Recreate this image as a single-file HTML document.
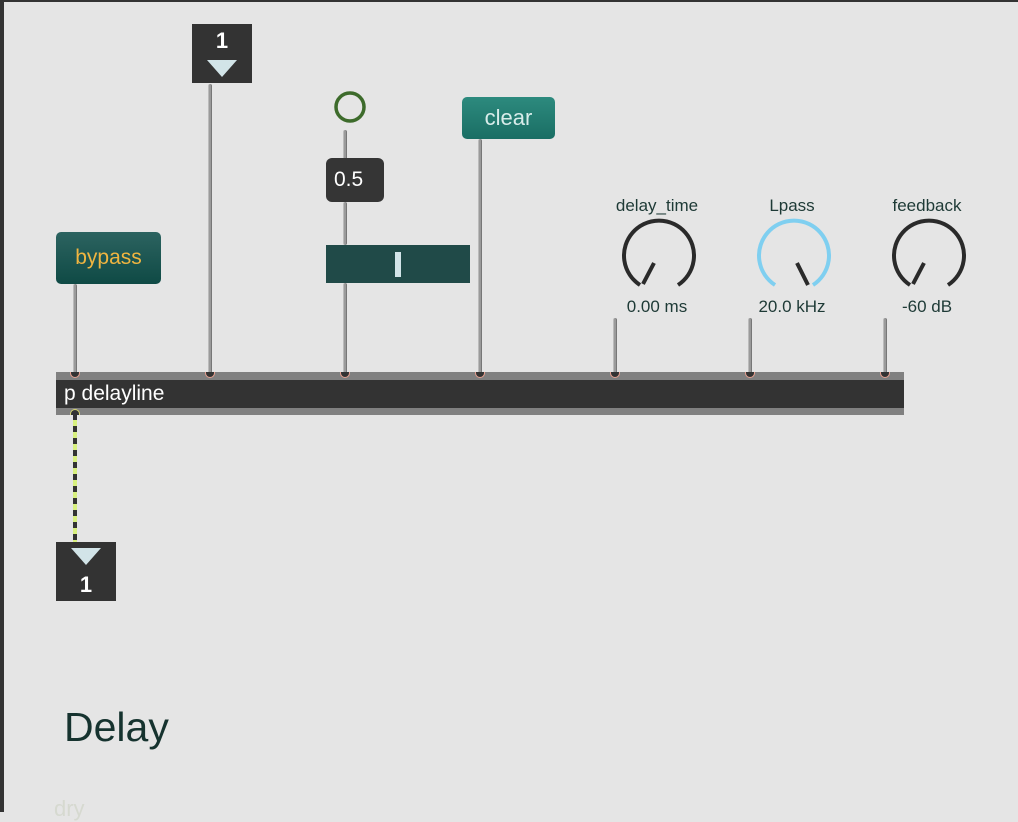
<!DOCTYPE html>
<html><head><style>
body{margin:0;width:1018px;height:812px;overflow:hidden;background:#e5e5e5;position:relative;font-family:"Liberation Sans",sans-serif}
.a{position:absolute}
.cord{position:absolute;width:4px;background:#9a9a9a;border-left:1px solid #bbb;border-right:1px solid #777;box-sizing:border-box;border-radius:2px}
.lbl{position:absolute;color:#1e3a36;font-size:17px;text-align:center;width:120px}
.inl{position:absolute;width:10px;height:6px;top:372px;border:1.5px solid #e8a090;border-top:none;border-radius:0 0 6px 6px;background:#333;box-sizing:border-box}
</style></head><body>
<div class="a" style="left:0;top:0;width:4px;height:812px;background:#333"></div>
<div class="a" style="left:0;top:0;width:1018px;height:2px;background:#333"></div>

<div class="cord" style="left:73px;top:284px;height:90px"></div>
<div class="cord" style="left:208px;top:84px;height:290px"></div>
<div class="cord" style="left:343px;top:130px;height:30px"></div>
<div class="cord" style="left:343px;top:202px;height:43px"></div>
<div class="cord" style="left:343px;top:283px;height:91px"></div>
<div class="cord" style="left:478px;top:139px;height:235px"></div>
<div class="cord" style="left:613px;top:318px;height:56px"></div>
<div class="cord" style="left:748px;top:318px;height:56px"></div>
<div class="cord" style="left:883px;top:318px;height:56px"></div>

<div class="a" style="left:192px;top:24px;width:60px;height:59px;background:#333"></div>
<div class="a" style="left:192px;top:28px;width:60px;text-align:center;color:#fff;font-weight:bold;font-size:22px">1</div>
<svg class="a" style="left:192px;top:24px" width="60" height="59"><polygon points="15,36 45,36 30,53" fill="#d2e4e8"/></svg>

<div class="a" style="left:56px;top:232px;width:105px;height:52px;border-radius:5px;background:linear-gradient(#2c6360,#0f4a45);color:#f0b540;font-size:21px;text-align:center;line-height:52px">bypass</div>

<svg class="a" style="left:333px;top:90px" width="34" height="34"><circle cx="17" cy="17" r="14" fill="none" stroke="#3d6b2b" stroke-width="3.5"/></svg>
<div class="a" style="left:326px;top:158px;width:58px;height:44px;border-radius:6px;background:#353535;color:#fff;font-size:21px;line-height:44px;padding-left:8px;box-sizing:border-box">0.5</div>
<div class="a" style="left:326px;top:245px;width:144px;height:38px;background:#204a48"></div>
<div class="a" style="left:395px;top:252px;width:6px;height:25px;background:#d2e4e8"></div>

<div class="a" style="left:462px;top:97px;width:93px;height:42px;border-radius:5px;background:linear-gradient(#2d8a7e,#1a6e64);color:#d8ecea;font-size:22px;text-align:center;line-height:42px">clear</div>

<div class="lbl" style="left:597px;top:196px">delay_time</div>
<div class="lbl" style="left:732px;top:196px">Lpass</div>
<div class="lbl" style="left:867px;top:196px">feedback</div>
<div class="lbl" style="left:597px;top:297px">0.00 ms</div>
<div class="lbl" style="left:732px;top:297px">20.0 kHz</div>
<div class="lbl" style="left:867px;top:297px">-60 dB</div>
<svg class="a" style="left:0;top:0" width="1018" height="812">
<g fill="none" stroke-width="4">
<path d="M640 285 A35 35 0 1 1 678 285" stroke="#2a2a2a"/>
<line x1="654" y1="263" x2="643" y2="284" stroke="#2a2a2a"/>
<path d="M775 285 A35 35 0 1 1 813 285" stroke="#7fcff0"/>
<line x1="797" y1="263" x2="808" y2="285" stroke="#2a2a2a"/>
<path d="M910 285 A35 35 0 1 1 948 285" stroke="#2a2a2a"/>
<line x1="924" y1="263" x2="913" y2="284" stroke="#2a2a2a"/>
</g>
</svg>

<div class="a" style="left:56px;top:372px;width:848px;height:43px;background:#808080"></div>
<div class="a" style="left:56px;top:380px;width:848px;height:28px;background:#333;color:#fff;font-size:21px;line-height:28px;padding-left:8px;box-sizing:border-box">p delayline</div>
<div class="inl" style="left:70px"></div>
<div class="inl" style="left:205px"></div>
<div class="inl" style="left:340px"></div>
<div class="inl" style="left:475px"></div>
<div class="inl" style="left:610px"></div>
<div class="inl" style="left:745px"></div>
<div class="inl" style="left:880px"></div>
<div class="a" style="left:70px;top:409px;width:10px;height:6px;border:1.5px solid #d8d870;border-bottom:none;border-radius:6px 6px 0 0;background:#333;box-sizing:border-box"></div>

<div class="a" style="left:73px;top:414px;width:4px;height:128px;background:repeating-linear-gradient(#333 0 6px,#d8f080 6px 12px)"></div>

<div class="a" style="left:56px;top:542px;width:60px;height:59px;background:#333"></div>
<svg class="a" style="left:56px;top:542px" width="60" height="59"><polygon points="15,6 45,6 30,23" fill="#d2e4e8"/></svg>
<div class="a" style="left:56px;top:572px;width:60px;text-align:center;color:#fff;font-weight:bold;font-size:22px">1</div>

<div class="a" style="left:64px;top:704px;color:#16332f;font-size:41px">Delay</div>
<div class="a" style="left:54px;top:796px;color:#d6d9d0;font-size:22px">dry</div>
</body></html>
